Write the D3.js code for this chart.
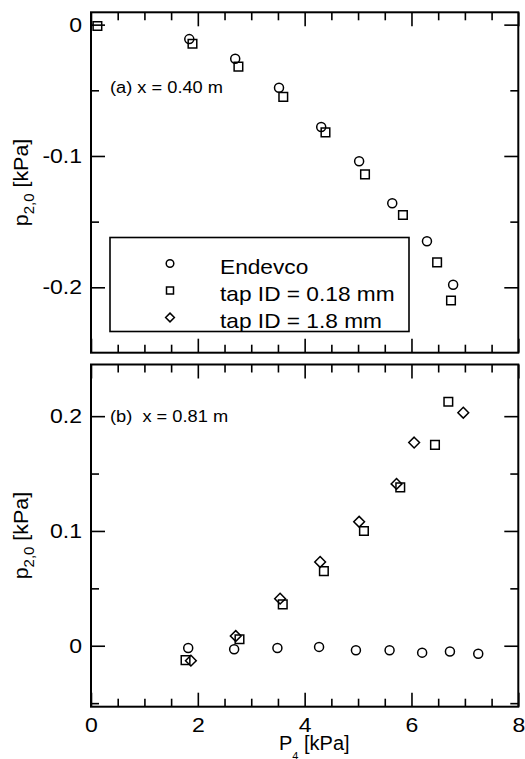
<!DOCTYPE html>
<html>
<head>
<meta charset="utf-8">
<script src="https://cdn.jsdelivr.net/npm/d3@7"></script>
<style>
  html, body { margin: 0; padding: 0; background: #fff; }
  svg { display: block; font-family: "Liberation Sans", Arial, sans-serif; }
</style>
</head>
<body>
<div id="chart"></div>
<script>
// P4 on the x axis, shared by both panels
const xMajor = [0, 2, 4, 6, 8];
const xMinor = d3.range(0, 8.01, 0.5).filter(v => v % 2 !== 0);

// (a) x = 0.40 m
const topEndevcoX = [1.84, 2.70, 3.52, 4.31, 5.02, 5.64, 6.29, 6.78];
const topEndevcoY = [-0.011, -0.026, -0.048, -0.078, -0.104, -0.136, -0.165, -0.198];
const topTap018X  = [0.12, 1.90, 2.76, 3.60, 4.39, 5.13, 5.84, 6.48, 6.74];
const topTap018Y  = [-0.001, -0.0145, -0.032, -0.055, -0.082, -0.114, -0.145, -0.181, -0.210];
const topYMajor = [0, -0.1, -0.2];
const topYMinor = [-0.05, -0.15];

// (b) x = 0.81 m
const botEndevcoX = [1.82, 2.68, 3.49, 4.27, 4.96, 5.59, 6.20, 6.72, 7.25];
const botEndevcoY = [-0.002, -0.003, -0.002, -0.001, -0.004, -0.004, -0.006, -0.005, -0.007];
const botTap018X  = [1.77, 2.78, 3.59, 4.36, 5.11, 5.79, 6.44, 6.69];
const botTap018Y  = [-0.0125, 0.0056, 0.036, 0.065, 0.100, 0.138, 0.175, 0.2125];
const botTap18X   = [1.87, 2.71, 3.54, 4.29, 5.02, 5.72, 6.05, 6.97];
const botTap18Y   = [-0.013, 0.0085, 0.041, 0.073, 0.108, 0.141, 0.177, 0.203];
const botYMajor = [0, 0.1, 0.2];
const botYMinor = [-0.05, 0.05, 0.15];

const legendLabels = ['Endevco', 'tap ID = 0.18 mm', 'tap ID = 1.8 mm'];
const legendShapes = ['circle', 'square', 'diamond'];

const width = 525, height = 759;
const left = 91, right = 518.3;
const stretchK = 1.13; // source font is a bit wider than Arial

const svg = d3.select('#chart').append('svg')
    .attr('width', width).attr('height', height);

const x = d3.scaleLinear().domain([0, 8]).range([left, right]);

// widen text horizontally to look like the original lettering
function stretch(sel, k = stretchK) {
    sel.each(function() {
        const w = this.getComputedTextLength();
        this.setAttribute('textLength', w * k);
        this.setAttribute('lengthAdjust', 'spacingAndGlyphs');
    });
}

function markerPath(shape, s) {
    if (shape === 'circle') return d3.symbol(d3.symbolCircle, Math.PI * s * s)();
    if (shape === 'square') return `M${-s},${-s}H${s}V${s}H${-s}Z`;
    return `M0,${-s * 1.25}L${s * 1.25},0L0,${s * 1.25}L${-s * 1.25},0Z`;
}

function drawPanel(cfg) {
    const y = d3.scaleLinear().domain(cfg.yDomain).range([cfg.bottom, cfg.top]);
    const g = svg.append('g');

    const tickFmt = d => d === 0 ? '0' : String(d);

    // y ticks, left (labelled) and right
    g.append('g').attr('transform', `translate(${left},0)`)
        .call(d3.axisLeft(y).tickValues(cfg.yMajor).tickSize(-14).tickPadding(9).tickFormat(tickFmt))
        .call(a => a.selectAll('text').attr('class', 'ticklab'));
    g.append('g').attr('transform', `translate(${left},0)`)
        .call(d3.axisLeft(y).tickValues(cfg.yMinor).tickSize(-8).tickFormat(''));
    g.append('g').attr('transform', `translate(${right},0)`)
        .call(d3.axisRight(y).tickValues(cfg.yMajor).tickSize(-14).tickFormat(''));
    g.append('g').attr('transform', `translate(${right},0)`)
        .call(d3.axisRight(y).tickValues(cfg.yMinor).tickSize(-8).tickFormat(''));

    // x ticks, top and bottom
    g.append('g').attr('transform', `translate(0,${cfg.bottom})`)
        .call(d3.axisBottom(x).tickValues(xMajor).tickSize(-14).tickPadding(11)
            .tickFormat(cfg.xLabels ? d3.format('d') : ''))
        .call(a => a.selectAll('text').attr('class', 'ticklab'));
    g.append('g').attr('transform', `translate(0,${cfg.bottom})`)
        .call(d3.axisBottom(x).tickValues(xMinor).tickSize(-8).tickFormat(''));
    g.append('g').attr('transform', `translate(0,${cfg.top})`)
        .call(d3.axisTop(x).tickValues(xMajor).tickSize(-14).tickFormat(''));
    g.append('g').attr('transform', `translate(0,${cfg.top})`)
        .call(d3.axisTop(x).tickValues(xMinor).tickSize(-8).tickFormat(''));

    g.selectAll('.domain').remove();
    g.selectAll('.tick line').attr('stroke', '#000').attr('stroke-width', 1.6);
    g.selectAll('text.ticklab')
        .attr('font-family', '"Liberation Sans", Arial, sans-serif')
        .attr('font-size', 20).attr('fill', '#000')
        .call(stretch, 1.15);

    // frame
    g.append('rect')
        .attr('x', left).attr('y', cfg.top)
        .attr('width', right - left).attr('height', cfg.bottom - cfg.top)
        .attr('fill', 'none').attr('stroke', '#000').attr('stroke-width', 2);

    // y axis title
    const yl = g.append('text')
        .attr('transform', `translate(28,${(cfg.top + cfg.bottom) / 2}) rotate(-90)`)
        .attr('text-anchor', 'middle')
        .attr('font-size', 20);
    yl.append('tspan').text('p');
    yl.append('tspan').attr('font-size', 14).attr('dy', 6).text('2,0');
    yl.append('tspan').attr('dy', -6).text(' [kPa]');
    stretch(yl, 1.07);

    // panel note
    g.append('text')
        .attr('x', 110).attr('y', cfg.noteY)
        .attr('font-size', 16)
        .text(cfg.note)
        .call(stretch, 1.14);

    // data series
    cfg.series.forEach(s => {
        const pts = s.xs.map((v, i) => [v, s.ys[i]]);
        g.append('g').selectAll('path').data(pts).join('path')
            .attr('transform', d => `translate(${x(d[0])},${y(d[1])})`)
            .attr('d', markerPath(s.shape, s.shape === 'circle' ? 4.5 : 4.3))
            .attr('fill', 'none').attr('stroke', '#000').attr('stroke-width', 1.5);
    });
    return g;
}

drawPanel({
    top: 12.3, bottom: 352.7, yDomain: [-0.2498, 0.0094],
    yMajor: topYMajor, yMinor: topYMinor, xLabels: false,
    note: '(a) x = 0.40 m', noteY: 93,
    series: [
        { xs: topEndevcoX, ys: topEndevcoY, shape: 'circle' },
        { xs: topTap018X, ys: topTap018Y, shape: 'square' }
    ]
});

drawPanel({
    top: 364.5, bottom: 706.7, yDomain: [-0.0531, 0.245],
    yMajor: botYMajor, yMinor: botYMinor, xLabels: true,
    note: '(b)\u00a0 x = 0.81 m', noteY: 421.5,
    series: [
        { xs: botEndevcoX, ys: botEndevcoY, shape: 'circle' },
        { xs: botTap018X, ys: botTap018Y, shape: 'square' },
        { xs: botTap18X, ys: botTap18Y, shape: 'diamond' }
    ]
});

// legend in panel (a)
const legend = svg.append('g');
legend.append('rect')
    .attr('x', 110).attr('y', 237.5).attr('width', 299).attr('height', 94)
    .attr('fill', '#fff').attr('stroke', '#000').attr('stroke-width', 1.6);
const rows = legend.selectAll('g.row').data(legendLabels).join('g')
    .attr('class', 'row')
    .attr('transform', (d, i) => `translate(170,${263.5 + i * 27})`);
rows.append('path')
    .attr('d', (d, i) => markerPath(legendShapes[i], legendShapes[i] === 'circle' ? 3.8 : 3.5))
    .attr('fill', 'none').attr('stroke', '#000').attr('stroke-width', 1.5);
rows.append('text')
    .attr('x', 50).attr('y', 10)
    .attr('font-size', 21)
    .text(d => d)
    .call(stretch, 1.08);

// x axis title (subscript sits low, mostly below the picture edge as in the source)
const xl = svg.append('text')
    .attr('x', 279).attr('y', 750)
    .attr('font-size', 20);
xl.append('tspan').text('P');
xl.append('tspan').attr('font-size', 11).attr('dy', 10).text('4');
xl.append('tspan').attr('dy', -10).text(' [kPa]');
</script>
</body>
</html>
